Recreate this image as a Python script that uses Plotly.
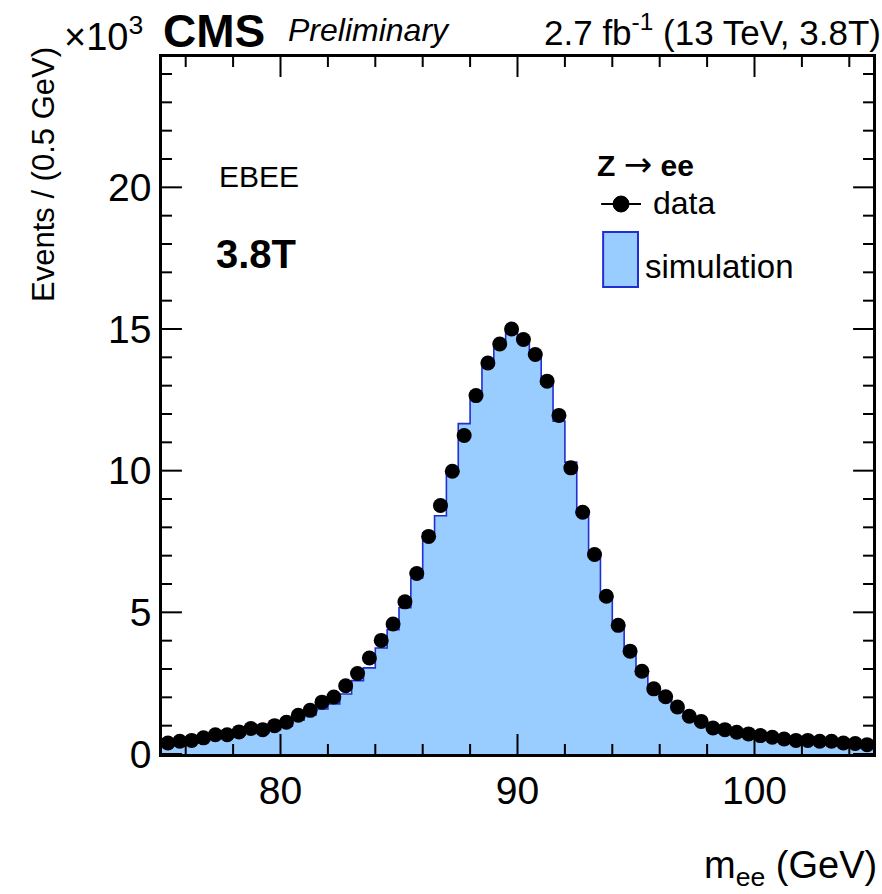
import numpy as np
import plotly.graph_objects as go

# ---------------- data (units of 10^3 events per 0.5 GeV) ----------------
mass_low = 75.0
bin_width = 0.5
data_counts = [
    0.39, 0.45, 0.48, 0.57, 0.68, 0.68, 0.78, 0.90, 0.86, 1.00,
    1.12, 1.37, 1.54, 1.83, 2.01, 2.41, 2.84, 3.39, 4.01, 4.59,
    5.37, 6.37, 7.68, 8.77, 9.98, 11.24, 12.65, 13.80, 14.47, 15.00,
    14.63, 14.10, 13.16, 11.95, 10.10, 8.53, 7.04, 5.57, 4.54, 3.63,
    2.92, 2.30, 2.02, 1.66, 1.33, 1.15, 0.92, 0.86, 0.77, 0.71,
    0.65, 0.59, 0.53, 0.48, 0.48, 0.45, 0.45, 0.39, 0.37, 0.33,
]
sim_counts = [
    0.33, 0.38, 0.41, 0.48, 0.57, 0.58, 0.66, 0.76, 0.75, 0.86,
    0.98, 1.20, 1.38, 1.59, 1.77, 2.12, 2.59, 3.04, 3.74, 4.39,
    5.16, 6.21, 7.80, 8.41, 9.98, 11.66, 12.68, 13.75, 14.45, 14.90,
    14.60, 14.05, 13.05, 11.75, 10.30, 8.45, 6.95, 5.45, 4.45, 3.55,
    2.80, 2.20, 1.92, 1.58, 1.27, 1.08, 0.87, 0.80, 0.72, 0.66,
    0.60, 0.55, 0.50, 0.45, 0.44, 0.42, 0.41, 0.36, 0.34, 0.31,
]
x_range = [75, 105]
y_range = [0, 24.6]
x_major_ticks = [80, 90, 100]
y_major_ticks = [0, 5, 10, 15, 20]
x_minor_ticks = [76, 78, 82, 84, 86, 88, 92, 94, 96, 98, 102, 104]
y_minor_ticks = [1, 2, 3, 4, 6, 7, 8, 9, 11, 12, 13, 14, 16, 17, 18, 19, 21, 22, 23, 24]

n_bins = len(data_counts)
edges = mass_low + bin_width * np.arange(n_bins + 1)
centers = edges[:-1] + bin_width / 2

# ---------------- geometry helpers (pixels -> paper) ----------------
L, R, T, B = 162, 876, 57, 754
W, H = R - L, B - T
def px(x):
    return (x - L) / W
def py(y):
    return (B - y) / H

FONT = "Liberation Sans, Arial, Helvetica, sans-serif"
FILL = "#99ccff"
EDGE = "#1f2fd0"

fig = go.Figure()

# simulation histogram (step outline, filled)
fig.add_trace(go.Scatter(
    x=list(edges), y=list(sim_counts) + [sim_counts[-1]],
    mode="lines", line=dict(shape="hv", color=EDGE, width=1.6),
    fill="tozeroy", fillcolor=FILL, showlegend=False, hoverinfo="skip",
))

# data points
fig.add_trace(go.Scatter(
    x=list(centers), y=data_counts, mode="markers",
    marker=dict(color="black", size=15, symbol="circle"),
    error_x=dict(type="constant", value=bin_width / 2, color="black", thickness=2, width=0),
    showlegend=False,
))

tickfont = dict(family=FONT, size=39, color="black")
fig.update_layout(
    xaxis=dict(range=x_range, tickmode="array", tickvals=x_major_ticks,
               showline=True, linecolor="black", linewidth=2.5, mirror=True,
               ticks="", showgrid=False, zeroline=False, tickfont=tickfont),
    yaxis=dict(range=y_range, tickmode="array", tickvals=y_major_ticks,
               showline=True, linecolor="black", linewidth=2.5, mirror=True,
               ticks="", showgrid=False, zeroline=False, tickfont=tickfont),
)

# ---- inside tick marks on all four sides, placed through the axis scales ----
TICKC = "black"
shapes = []
MAJ, MIN = 20, 10
def xtick(v, ln):
    for y0, y1 in ((0.0, ln / H), (1.0, 1.0 - ln / H)):
        shapes.append(dict(type="line", xref="x", yref="paper", x0=v, x1=v, y0=y0, y1=y1,
                           line=dict(color=TICKC, width=2)))
def ytick(v, ln):
    for x0, x1 in ((0.0, ln / W), (1.0, 1.0 - ln / W)):
        shapes.append(dict(type="line", xref="paper", yref="y", x0=x0, x1=x1, y0=v, y1=v,
                           line=dict(color=TICKC, width=2)))

for v in x_major_ticks:
    xtick(v, MAJ)
for v in x_minor_ticks:
    xtick(v, MIN)
for v in y_major_ticks:
    ytick(v, MAJ)
for v in y_minor_ticks:
    ytick(v, MIN)

ann = []
def text(x, y, s, size, xanchor="left", yanchor="middle", bold=False, italic=False, angle=0):
    ann.append(dict(
        xref="paper", yref="paper", x=px(x), y=py(y), text=s, showarrow=False,
        xanchor=xanchor, yanchor=yanchor, textangle=angle,
        font=dict(family=FONT, size=size, color="black",
                  weight="bold" if bold else "normal",
                  style="italic" if italic else "normal"),
    ))

text(43, 45, "Events / (0.5 GeV)", 31, xanchor="center", yanchor="top", angle=-90)
text(62, 34, "×10<sup>3</sup>", 38)
text(161, 31, "CMS", 46, bold=True)
text(287, 30, "Preliminary", 32, italic=True)
text(544, 30, "2.7 fb<sup>-1</sup> (13 TeV, 3.8T)", 35, xanchor="left")
text(882, 868, "m<sub>ee</sub> (GeV)", 38, xanchor="right")
text(217, 176, "EBEE", 30)
text(214, 254, "3.8T", 40, bold=True)
text(597, 164, "Z <span style='font-family:DejaVu Sans;font-weight:normal;font-size:34px'>→</span> ee", 30, bold=True)
text(653, 203, "data", 32)
text(645, 266, "simulation", 33)

shapes += [
    dict(type="rect", xref="paper", yref="paper", x0=px(605), x1=px(640), y0=py(287), y1=py(232),
         fillcolor=FILL, line=dict(color=EDGE, width=2)),
    dict(type="line", xref="paper", yref="paper", x0=px(603), x1=px(643), y0=py(204), y1=py(204),
         line=dict(color="black", width=2)),
    dict(type="circle", xref="paper", yref="paper", x0=px(615), x1=px(631), y0=py(212), y1=py(196),
         fillcolor="black", line=dict(color="black", width=1)),
]

fig.update_layout(
    width=882, height=894,
    margin=dict(l=L, r=882 - R, t=T, b=894 - B),
    paper_bgcolor="white", plot_bgcolor="white",
    annotations=ann, shapes=shapes, showlegend=False,
    font=dict(family=FONT, color="black"),
)

fig.write_html("out.html")
